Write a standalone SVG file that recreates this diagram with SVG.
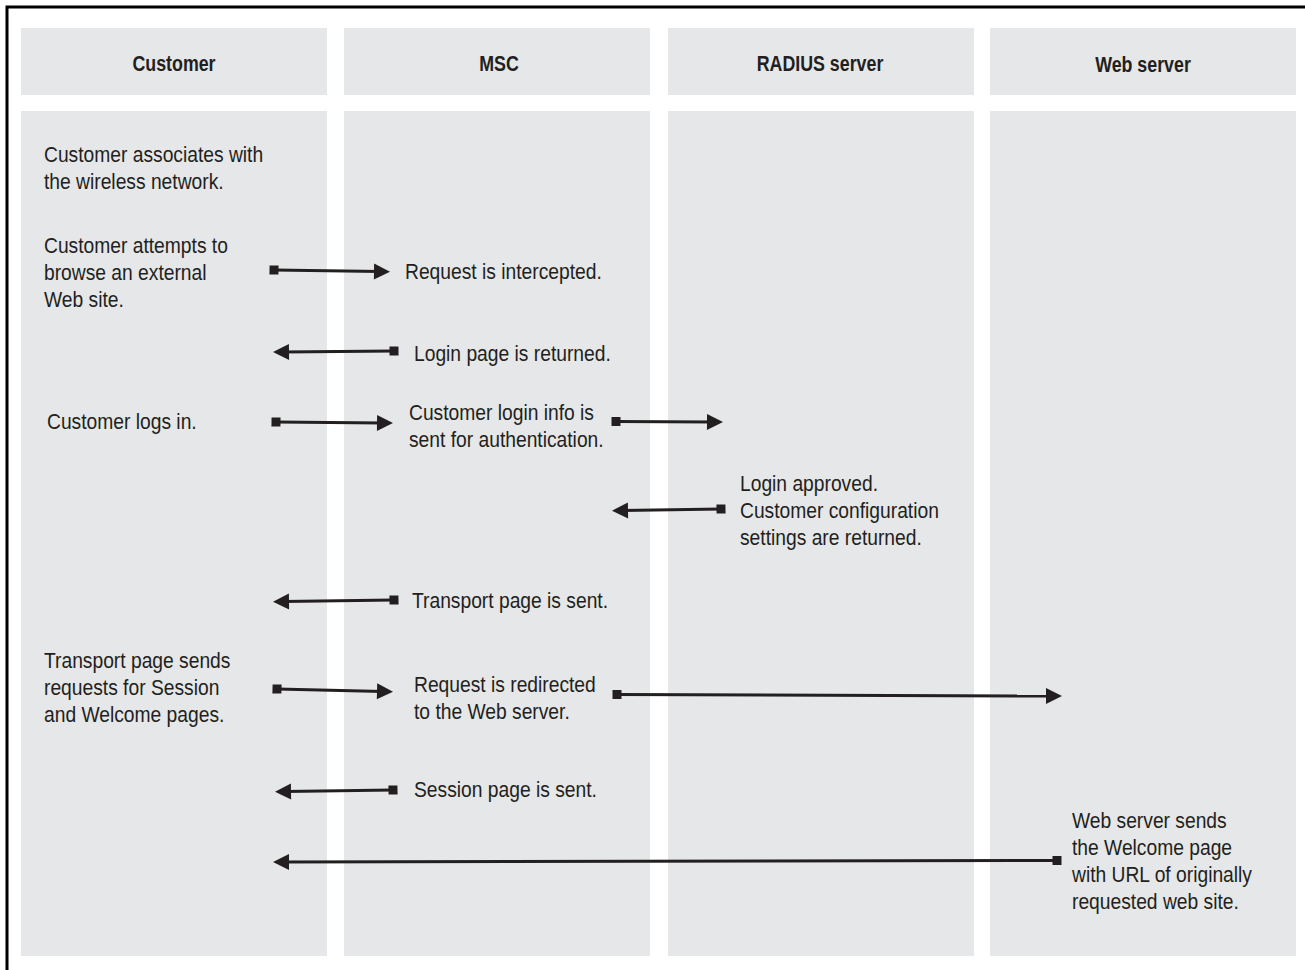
<svg xmlns="http://www.w3.org/2000/svg" width="1305" height="970" viewBox="0 0 1305 970">
<style>
.lane{fill:#e6e7e8}
.hd{font-family:"Liberation Sans",Arial,sans-serif;font-size:22px;font-weight:bold;fill:#231f20;text-anchor:middle}
.tx{font-family:"Liberation Sans",Arial,sans-serif;font-size:22px;fill:#231f20}
.cn{stroke:#231f20;stroke-width:3;fill:none;marker-start:url(#sq);marker-end:url(#ah)}
</style>
<defs>
<marker id="ah" markerUnits="userSpaceOnUse" markerWidth="16" markerHeight="16" refX="6" refY="8" orient="auto" overflow="visible">
<path d="M0,0 L16,8 L0,16 z" fill="#231f20"/>
</marker>
<marker id="sq" markerUnits="userSpaceOnUse" markerWidth="9" markerHeight="9" refX="4.5" refY="4.5" orient="auto" overflow="visible">
<rect x="0" y="0" width="9" height="9" fill="#231f20"/>
</marker>
</defs>
<rect width="1305" height="970" fill="#ffffff"/>
<path d="M7,970 V7 H1305" fill="none" stroke="#000000" stroke-width="3"/>
<g id="lane-customer">
<rect class="lane" x="21" y="28" width="306" height="67"/>
<rect class="lane" x="21" y="111" width="306" height="845"/>
<text class="hd" transform="translate(174,0) scale(0.81,1)" x="0" y="71">Customer</text>
</g>
<g id="lane-msc">
<rect class="lane" x="344" y="28" width="306" height="67"/>
<rect class="lane" x="344" y="111" width="306" height="845"/>
<text class="hd" transform="translate(499,0) scale(0.81,1)" x="0" y="71">MSC</text>
</g>
<g id="lane-radius">
<rect class="lane" x="668" y="28" width="306" height="67"/>
<rect class="lane" x="668" y="111" width="306" height="845"/>
<text class="hd" transform="translate(820,0) scale(0.81,1)" x="0" y="71">RADIUS server</text>
</g>
<g id="lane-web">
<rect class="lane" x="990" y="28" width="306" height="67"/>
<rect class="lane" x="990" y="111" width="306" height="845"/>
<text class="hd" transform="translate(1143,0) scale(0.81,1)" x="0" y="72">Web server</text>
</g>
<g id="n-associate" transform="translate(44,0) scale(0.875,1)"><text class="tx" x="0" y="162">Customer associates with</text><text class="tx" x="0" y="189">the wireless network.</text></g>
<g id="n-browse" transform="translate(44,0) scale(0.875,1)"><text class="tx" x="0" y="253">Customer attempts to</text><text class="tx" x="0" y="280">browse an external</text><text class="tx" x="0" y="307">Web site.</text></g>
<g id="n-intercept" transform="translate(405,0) scale(0.875,1)"><text class="tx" x="0" y="279">Request is intercepted.</text></g>
<g id="n-loginpage" transform="translate(414,0) scale(0.875,1)"><text class="tx" x="0" y="361">Login page is returned.</text></g>
<g id="n-logsin" transform="translate(47,0) scale(0.875,1)"><text class="tx" x="0" y="429">Customer logs in.</text></g>
<g id="n-logininfo" transform="translate(409,0) scale(0.875,1)"><text class="tx" x="0" y="420">Customer login info is</text><text class="tx" x="0" y="447">sent for authentication.</text></g>
<g id="n-approved" transform="translate(740,0) scale(0.875,1)"><text class="tx" x="0" y="491">Login approved.</text><text class="tx" x="0" y="518">Customer configuration</text><text class="tx" x="0" y="545">settings are returned.</text></g>
<g id="n-transportsent" transform="translate(412,0) scale(0.875,1)"><text class="tx" x="0" y="608">Transport page is sent.</text></g>
<g id="n-transportreq" transform="translate(44,0) scale(0.875,1)"><text class="tx" x="0" y="668">Transport page sends</text><text class="tx" x="0" y="695">requests for Session</text><text class="tx" x="0" y="722">and Welcome pages.</text></g>
<g id="n-redirect" transform="translate(414,0) scale(0.875,1)"><text class="tx" x="0" y="692">Request is redirected</text><text class="tx" x="0" y="719">to the Web server.</text></g>
<g id="n-session" transform="translate(414,0) scale(0.875,1)"><text class="tx" x="0" y="797">Session page is sent.</text></g>
<g id="n-welcome" transform="translate(1072,0) scale(0.875,1)"><text class="tx" x="0" y="828">Web server sends</text><text class="tx" x="0" y="855">the Welcome page</text><text class="tx" x="0" y="882">with URL of originally</text><text class="tx" x="0" y="909">requested web site.</text></g>
<g id="connectors">
<line class="cn" x1="274" y1="270" x2="380" y2="271.5"/>
<line class="cn" x1="394" y1="351" x2="283" y2="352"/>
<line class="cn" x1="276" y1="422" x2="383" y2="423"/>
<line class="cn" x1="616" y1="421.5" x2="713" y2="422"/>
<line class="cn" x1="721" y1="509" x2="622" y2="510.5"/>
<line class="cn" x1="394" y1="600" x2="283" y2="601.5"/>
<line class="cn" x1="277" y1="689" x2="383" y2="691.5"/>
<line class="cn" x1="617" y1="694.5" x2="1052" y2="696"/>
<line class="cn" x1="393" y1="790" x2="285" y2="791.5"/>
<line class="cn" x1="1057" y1="860.5" x2="283" y2="862"/>
</g>
</svg>
